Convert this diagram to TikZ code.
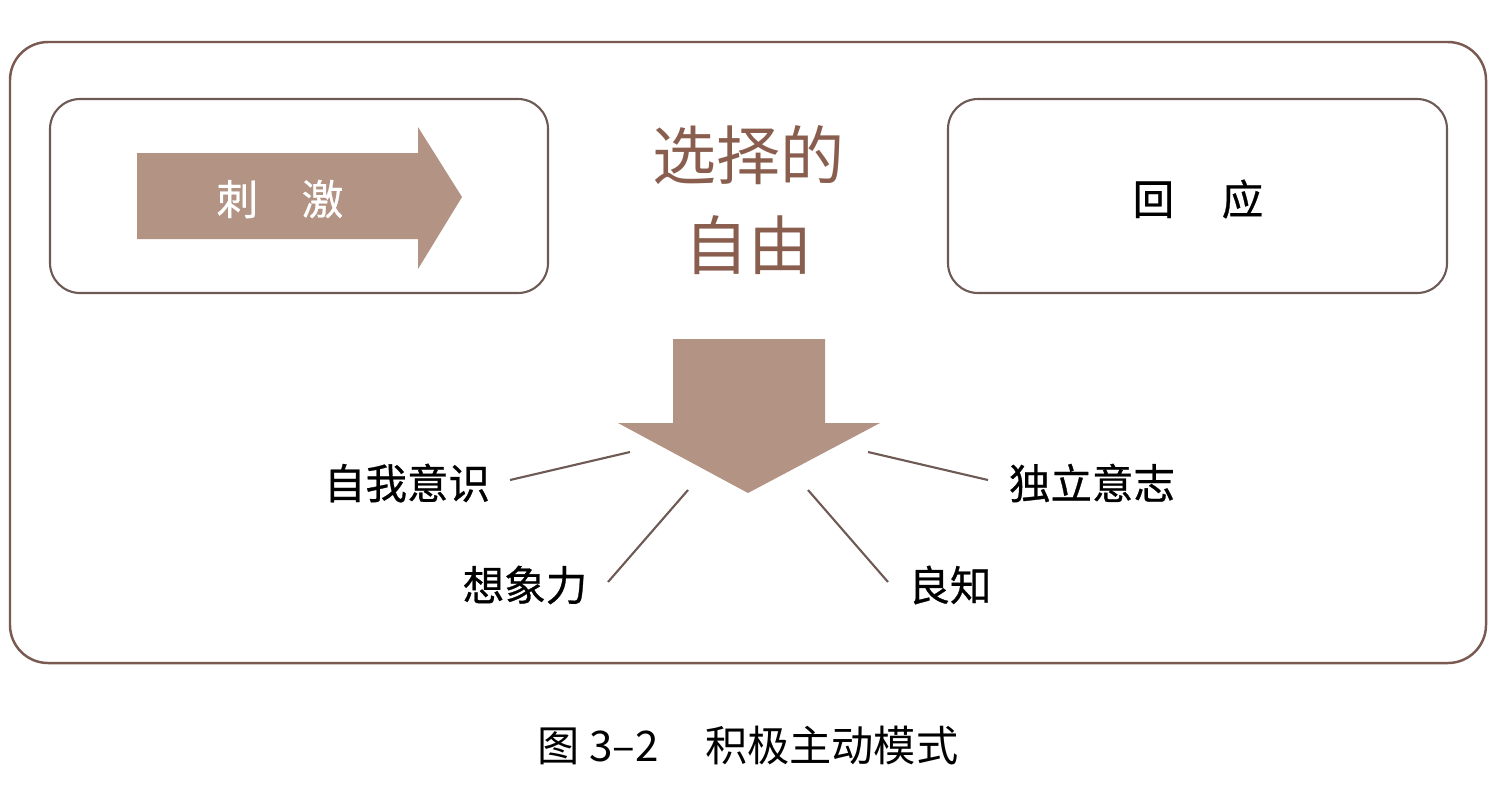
\documentclass[tikz,border=0pt]{standalone}
\usepackage{fontspec}
\setmainfont{Noto Sans CJK SC}
\newfontfamily\cjk{Noto Sans CJK SC}
\newfontfamily\cjkmed[FakeBold=0.7]{Noto Sans CJK SC}
\definecolor{arrowfill}{HTML}{B39383}
\definecolor{framebrown}{HTML}{7A5A50}
\definecolor{boxline}{HTML}{6E5A55}
\definecolor{titlebrown}{HTML}{8A5E4E}
\begin{document}
\begin{tikzpicture}[
            x=0.01cm,
            y=-0.01cm,
            every node/.style={
                inner sep=0pt,
                font=\cjkmed\fontsize{11.8pt}{14pt}\selectfont
            },
            panel/.style={
                draw=boxline,
                line width=0.6pt,
                rounded corners=0.3cm
            },
            spoke/.style={
                draw=boxline,
                line width=0.6pt
            }
        ]
            \useasboundingbox (0,0) rectangle (1500,808);

            % outer frame
            \draw[draw=framebrown, line width=0.7pt, rounded corners=0.38cm] (10,42) rectangle (1486,663);

            % stimulus and response panels
            \draw[panel] (50,99) rectangle (548,293);
            \draw[panel] (948,99) rectangle (1447,293);

            \fill[arrowfill] (137,153) -- (418,153) -- (418,127) -- (462,197)
                -- (418,269) -- (418,239) -- (137,239) -- cycle;
            \node[text=white] (stim) at (280,199) {刺\hspace{1.05em}激};
            \node (resp) at (1198,199) {回\hspace{1.15em}应};

            % freedom to choose
            \node[text=titlebrown, font=\cjk\fontsize{18.2pt}{22pt}\selectfont] (choice) at (748,155) {选择的};
            \node[text=titlebrown, font=\cjk\fontsize{18.2pt}{22pt}\selectfont] (free) at (748,245) {自由};

            \fill[arrowfill] (673,339) -- (825,339) -- (825,423) -- (880,423)
                -- (748,493) -- (618,423) -- (673,423) -- cycle;

            % four endowments
            \node (self) at (407,483) {自我意识};
            \node (imag) at (525,585) {想象力};
            \node (consc) at (950,585) {良知};
            \node (will) at (1092,483) {独立意志};

            \coordinate (a1) at (630,452);
            \coordinate (a2) at (688,490);
            \coordinate (a3) at (808,490);
            \coordinate (a4) at (868,452);
            \coordinate (b1) at (510,480);
            \coordinate (b2) at (608,582);
            \coordinate (b3) at (888,582);
            \coordinate (b4) at (988,480);

            \draw[spoke] (b1) -- (a1);
            \draw[spoke] (b2) -- (a2);
            \draw[spoke] (b3) -- (a3);
            \draw[spoke] (b4) -- (a4);

            % caption
            \node[font=\cjk\fontsize{12pt}{14pt}\selectfont] (cap) at (748,745) {图 3–2\hspace{1.1em}积极主动模式};
        \end{tikzpicture}
\end{document}
